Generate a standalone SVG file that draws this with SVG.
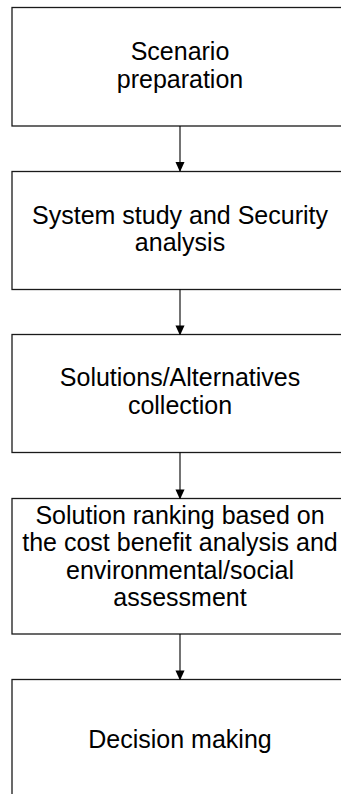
<svg xmlns="http://www.w3.org/2000/svg" width="341" height="794" viewBox="0 0 341 794">
<style>
.box{fill:#fff;stroke:#1a1a1a;stroke-width:1.3}
.lbl{font-family:"Liberation Sans",Arial,sans-serif;font-size:25px;fill:#000;text-anchor:middle}
.conn{stroke:#000;stroke-width:1.1;fill:none}
</style>
<defs>
<marker id="ah" markerWidth="10" markerHeight="11" refX="10" refY="5" orient="auto" markerUnits="userSpaceOnUse" viewBox="0 0 11 10">
<path d="M0,0 L11,5 L0,10 Z" fill="#000"/>
</marker>
</defs>
<rect width="341" height="794" fill="#fff"/>
<g id="n1"><rect class="box" x="12" y="7.5" width="336" height="118.5"/>
<text class="lbl" x="180" y="60">Scenario</text><text class="lbl" x="180" y="87.5">preparation</text></g>
<g id="n2"><rect class="box" x="12" y="171.5" width="336" height="118"/>
<text class="lbl" x="180" y="223.5">System study and Security</text><text class="lbl" x="180" y="251">analysis</text></g>
<g id="n3"><rect class="box" x="12" y="334.5" width="336" height="118"/>
<text class="lbl" x="180" y="386">Solutions/Alternatives</text><text class="lbl" x="180" y="414">collection</text></g>
<g id="n4"><rect class="box" x="12" y="498.5" width="336" height="135.5"/>
<text class="lbl" x="180" y="523.5">Solution ranking based on</text><text class="lbl" x="180" y="551">the cost benefit analysis and</text><text class="lbl" x="180" y="578.7">environmental/social</text><text class="lbl" x="180" y="606">assessment</text></g>
<g id="n5"><rect class="box" x="12" y="679.5" width="336" height="130"/>
<text class="lbl" x="180" y="747.5">Decision making</text></g>
<g id="connectors">
<line class="conn" x1="180" y1="126" x2="180" y2="171" marker-end="url(#ah)"/>
<line class="conn" x1="180" y1="289.5" x2="180" y2="334.5" marker-end="url(#ah)"/>
<line class="conn" x1="180" y1="452.5" x2="180" y2="498.5" marker-end="url(#ah)"/>
<line class="conn" x1="180" y1="634" x2="180" y2="679.5" marker-end="url(#ah)"/>
</g>
</svg>
